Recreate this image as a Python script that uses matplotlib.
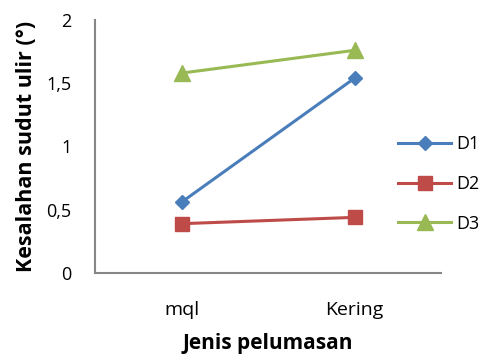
import matplotlib.pyplot as plt

plt.rcParams['font.family'] = ['Open Sans', 'DejaVu Sans']

categories = ["mql", "Kering"]
d1 = [0.56, 1.54]
d2 = [0.39, 0.44]
d3 = [1.58, 1.76]
yticks = [0, 0.5, 1, 1.5, 2]
ytick_labels = ["0", "0,5", "1", "1,5", "2"]

fig = plt.figure(figsize=(4.8, 3.56), dpi=100)
ax = fig.add_axes([0.198, 0.233, 0.721, 0.711])

x = [0.5, 1.5]
ax.plot(x, d1, color="#4A7EBB", lw=2.2, marker="D", ms=7.5, label="D1")
ax.plot(x, d2, color="#BE4B48", lw=2.2, marker="s", ms=10, label="D2")
ax.plot(x, d3, color="#98B954", lw=2.2, marker="^", ms=11, label="D3")

ax.set_xlim(0, 2)
ax.set_ylim(0, 2)
ax.set_xticks(x)
ax.set_xticklabels(categories, fontsize=14)
ax.set_yticks(yticks)
ax.set_yticklabels(ytick_labels, fontsize=13)
ax.tick_params(length=0)
ax.tick_params(axis="x", pad=20)
ax.tick_params(axis="y", pad=17)

for s in ["top", "right"]:
    ax.spines[s].set_visible(False)
for s in ["left", "bottom"]:
    ax.spines[s].set_color("#868686")
    ax.spines[s].set_linewidth(1.5)

ax.set_xlabel("Jenis pelumasan", fontsize=15, fontweight="bold", labelpad=10)
ax.set_ylabel("Kesalahan sudut ulir (°)", fontsize=15.5, fontweight="bold", labelpad=7)

leg = fig.legend(loc="center left", bbox_to_anchor=(0.83, 0.483), frameon=False,
                 fontsize=13, labelspacing=1.2, handlelength=2.9,
                 handletextpad=0.3, borderpad=0, borderaxespad=0)

fig.savefig("out.png", dpi=100)
